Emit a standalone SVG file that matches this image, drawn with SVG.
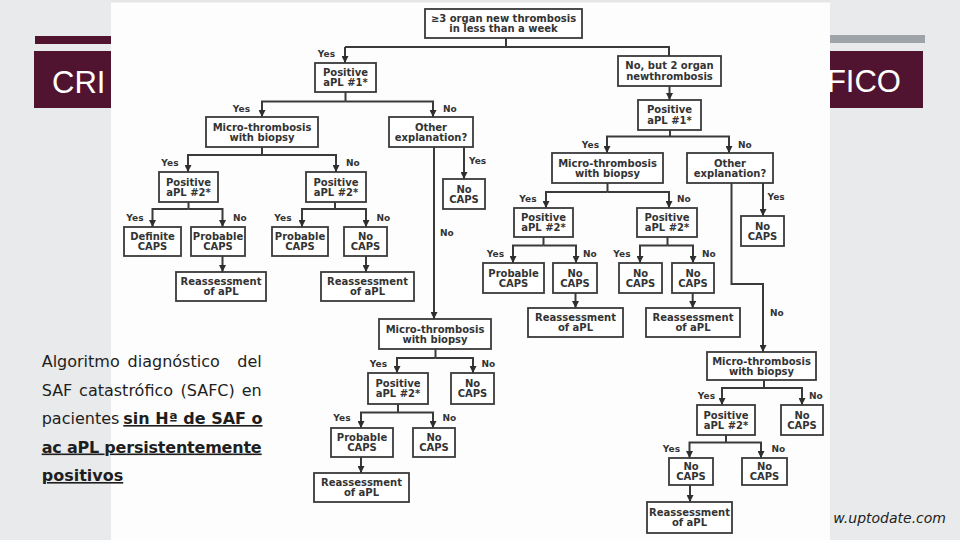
<svg xmlns="http://www.w3.org/2000/svg" width="960" height="540" viewBox="0 0 960 540">
<defs>
<marker id="ah" viewBox="0 0 8 8" refX="8" refY="4" markerWidth="7" markerHeight="7" markerUnits="userSpaceOnUse" orient="auto"><path d="M0 0 L8 4 L0 8 z" fill="#2e2e2e"/></marker>
<style>
.box{fill:#ffffff;stroke:#3a3a3a;stroke-width:1.8}
.t{font-family:"DejaVu Sans",Verdana,sans-serif;font-weight:bold;font-size:10px;fill:#333;text-anchor:middle}
.lb{font-family:"DejaVu Sans",Verdana,sans-serif;font-weight:bold;font-size:9px;fill:#333}
.ln{fill:none;stroke:#3a3a3a;stroke-width:2}
.ar{fill:none;stroke:#3a3a3a;stroke-width:2;marker-end:url(#ah)}
.body{font-family:"DejaVu Sans",Verdana,sans-serif;font-size:16px;fill:#1e1e1e}
.bu{font-weight:bold;text-decoration:underline}
</style>
</defs>
<rect x="0" y="0" width="960" height="540" fill="#e9eaec"/>
<g id="title">
<rect x="35" y="36" width="80" height="8" fill="#501430"/>
<rect x="826" y="35" width="99" height="8" fill="#9ea4aa"/>
<rect x="34" y="51" width="889" height="57" fill="#501430"/>
<text x="52" y="93" font-family="'Liberation Sans Narrow','Liberation Sans',Arial,sans-serif" font-size="31" fill="#ffffff">CRI</text>
<text x="901" y="92" text-anchor="end" font-family="'Liberation Sans Narrow','Liberation Sans',Arial,sans-serif" font-size="31" fill="#ffffff">FICO</text>
</g>
<rect x="111" y="0" width="719" height="540" fill="#fdfdfd"/>
<rect x="111" y="0" width="719" height="2.5" fill="#e6e6e6"/>
<g id="connectors">
<path class="ln" d="M506 38 V47"/>
<path class="ln" d="M669 56 V47 H345"/>
<path class="ar" d="M345 47 V63"/>
<path class="ln" d="M345.5 92 V101.5"/>
<path class="ar" d="M345.5 101.5 H262 V117"/>
<path class="ar" d="M345.5 101.5 H433 V117"/>
<path class="ln" d="M262 147 V155"/>
<path class="ar" d="M262 155 H188 V172"/>
<path class="ar" d="M262 155 H336 V172"/>
<path class="ln" d="M188.5 202 V209"/>
<path class="ar" d="M188.5 209 H152.5 V227"/>
<path class="ar" d="M188.5 209 H222.5 V227"/>
<path class="ln" d="M335 202 V209"/>
<path class="ar" d="M335 209 H302 V227"/>
<path class="ar" d="M335 209 H366 V227"/>
<path class="ar" d="M222.5 256 V272"/>
<path class="ar" d="M366 256 V272"/>
<path class="ar" d="M464 147 V179"/>
<path class="ar" d="M434 147 V319"/>
<path class="ar" d="M669.5 86 V100"/>
<path class="ln" d="M670 130 V136.5"/>
<path class="ar" d="M670 136.5 H607 V153"/>
<path class="ar" d="M670 136.5 H729 V153"/>
<path class="ln" d="M607.5 183 V192"/>
<path class="ar" d="M607.5 192 H546 V208"/>
<path class="ar" d="M607.5 192 H669 V208"/>
<path class="ln" d="M543.5 237 V245.5"/>
<path class="ar" d="M543.5 245.5 H513 V263"/>
<path class="ar" d="M543.5 245.5 H576 V263"/>
<path class="ln" d="M667.5 237 V245.5"/>
<path class="ar" d="M667.5 245.5 H640 V263"/>
<path class="ar" d="M667.5 245.5 H693 V263"/>
<path class="ar" d="M575.5 293 V308"/>
<path class="ar" d="M692.7 293 V308"/>
<path class="ar" d="M763 183 V216"/>
<path class="ar" d="M731.5 183 V284 H763 V352"/>
<path class="ln" d="M435.5 349 V358"/>
<path class="ar" d="M435.5 358 H397 V373"/>
<path class="ar" d="M435.5 358 H473 V373"/>
<path class="ln" d="M398 404 V412.5"/>
<path class="ar" d="M398 412.5 H361 V428"/>
<path class="ar" d="M398 412.5 H433 V428"/>
<path class="ar" d="M361 457 V473"/>
<path class="ln" d="M764 380 V388"/>
<path class="ar" d="M764 388 H722 V405"/>
<path class="ar" d="M764 388 H802 V405"/>
<path class="ln" d="M726 435 V442.5"/>
<path class="ar" d="M726 442.5 H689.5 V458"/>
<path class="ar" d="M726 442.5 H761 V458"/>
<path class="ar" d="M690 485 V502"/>
</g>
<g id="labels">
<text class="lb" x="335" y="57" text-anchor="end">Yes</text>
<text class="lb" x="250" y="111.5" text-anchor="end">Yes</text>
<text class="lb" x="443" y="111.5">No</text>
<text class="lb" x="178.5" y="165.5" text-anchor="end">Yes</text>
<text class="lb" x="346" y="165.5">No</text>
<text class="lb" x="143.5" y="221" text-anchor="end">Yes</text>
<text class="lb" x="233" y="221">No</text>
<text class="lb" x="291.5" y="221" text-anchor="end">Yes</text>
<text class="lb" x="376.5" y="221">No</text>
<text class="lb" x="440" y="236">No</text>
<text class="lb" x="469" y="164">Yes</text>
<text class="lb" x="599" y="147.5" text-anchor="end">Yes</text>
<text class="lb" x="738" y="147.5">No</text>
<text class="lb" x="536.5" y="202" text-anchor="end">Yes</text>
<text class="lb" x="677" y="202">No</text>
<text class="lb" x="504" y="257" text-anchor="end">Yes</text>
<text class="lb" x="583" y="257">No</text>
<text class="lb" x="630.5" y="257" text-anchor="end">Yes</text>
<text class="lb" x="702" y="257">No</text>
<text class="lb" x="767.5" y="200">Yes</text>
<text class="lb" x="770" y="316">No</text>
<text class="lb" x="387" y="366.5" text-anchor="end">Yes</text>
<text class="lb" x="481.5" y="366.5">No</text>
<text class="lb" x="350.5" y="421" text-anchor="end">Yes</text>
<text class="lb" x="442.5" y="421">No</text>
<text class="lb" x="715" y="398.5" text-anchor="end">Yes</text>
<text class="lb" x="809" y="398.5">No</text>
<text class="lb" x="680" y="452" text-anchor="end">Yes</text>
<text class="lb" x="771.5" y="452">No</text>
</g>
<g id="n0"><rect class="box" x="425" y="9" width="157" height="29"/><text class="t" x="503.5" y="21.5">≥3 organ new thrombosis</text><text class="t" x="503.5" y="31.5">in less than a week</text></g>
<g id="n1"><rect class="box" x="315" y="63" width="61" height="29"/><text class="t" x="345.5" y="75.5">Positive</text><text class="t" x="345.5" y="86">aPL #1*</text></g>
<g id="n2"><rect class="box" x="618" y="56" width="103" height="30"/><text class="t" x="669.5" y="69">No, but 2 organ</text><text class="t" x="669.5" y="79.5">newthrombosis</text></g>
<g id="n3"><rect class="box" x="206" y="117" width="112" height="30"/><text class="t" x="262" y="130.5">Micro-thrombosis</text><text class="t" x="262" y="140.5">with biopsy</text></g>
<g id="n4"><rect class="box" x="389" y="117" width="84" height="30"/><text class="t" x="431" y="130.5">Other</text><text class="t" x="431" y="140.5">explanation?</text></g>
<g id="n5"><rect class="box" x="159" y="172" width="59" height="30"/><text class="t" x="188.5" y="185.5">Positive</text><text class="t" x="188.5" y="195.5">aPL #2*</text></g>
<g id="n6"><rect class="box" x="306" y="172" width="60" height="30"/><text class="t" x="336" y="185.5">Positive</text><text class="t" x="336" y="195.5">aPL #2*</text></g>
<g id="n7"><rect class="box" x="443" y="179" width="42" height="30"/><text class="t" x="464" y="192.5">No</text><text class="t" x="464" y="202.5">CAPS</text></g>
<g id="n8"><rect class="box" x="124" y="227" width="57" height="29"/><text class="t" x="152.5" y="240">Definite</text><text class="t" x="152.5" y="250">CAPS</text></g>
<g id="n9"><rect class="box" x="191" y="227" width="54" height="29"/><text class="t" x="218" y="240">Probable</text><text class="t" x="218" y="250">CAPS</text></g>
<g id="n10"><rect class="box" x="272" y="227" width="56" height="29"/><text class="t" x="300" y="240">Probable</text><text class="t" x="300" y="250">CAPS</text></g>
<g id="n11"><rect class="box" x="344" y="227" width="43" height="29"/><text class="t" x="365.5" y="240">No</text><text class="t" x="365.5" y="250">CAPS</text></g>
<g id="n12"><rect class="box" x="176" y="272" width="90" height="29"/><text class="t" x="221" y="285">Reassessment</text><text class="t" x="221" y="295">of aPL</text></g>
<g id="n13"><rect class="box" x="321" y="272" width="93" height="29"/><text class="t" x="367.5" y="285">Reassessment</text><text class="t" x="367.5" y="295">of aPL</text></g>
<g id="n14"><rect class="box" x="638" y="100" width="63" height="30"/><text class="t" x="669.5" y="113">Positive</text><text class="t" x="669.5" y="123.5">aPL #1*</text></g>
<g id="n15"><rect class="box" x="552" y="153" width="111" height="30"/><text class="t" x="607.5" y="166.5">Micro-thrombosis</text><text class="t" x="607.5" y="176.5">with biopsy</text></g>
<g id="n16"><rect class="box" x="687" y="153" width="86" height="30"/><text class="t" x="730" y="166.5">Other</text><text class="t" x="730" y="176.5">explanation?</text></g>
<g id="n17"><rect class="box" x="514" y="208" width="59" height="29"/><text class="t" x="543.5" y="221">Positive</text><text class="t" x="543.5" y="231">aPL #2*</text></g>
<g id="n18"><rect class="box" x="637" y="208" width="60" height="29"/><text class="t" x="667" y="221">Positive</text><text class="t" x="667" y="231">aPL #2*</text></g>
<g id="n19"><rect class="box" x="741" y="216" width="43" height="30"/><text class="t" x="762.5" y="229.5">No</text><text class="t" x="762.5" y="239.5">CAPS</text></g>
<g id="n20"><rect class="box" x="483" y="263" width="61" height="30"/><text class="t" x="513.5" y="276.5">Probable</text><text class="t" x="513.5" y="286.5">CAPS</text></g>
<g id="n21"><rect class="box" x="553" y="263" width="44" height="30"/><text class="t" x="575" y="276.5">No</text><text class="t" x="575" y="286.5">CAPS</text></g>
<g id="n22"><rect class="box" x="619" y="263" width="43" height="30"/><text class="t" x="640.5" y="276.5">No</text><text class="t" x="640.5" y="286.5">CAPS</text></g>
<g id="n23"><rect class="box" x="672" y="263" width="42" height="30"/><text class="t" x="693" y="276.5">No</text><text class="t" x="693" y="286.5">CAPS</text></g>
<g id="n24"><rect class="box" x="528" y="308" width="95" height="29"/><text class="t" x="575.5" y="321">Reassessment</text><text class="t" x="575.5" y="331">of aPL</text></g>
<g id="n25"><rect class="box" x="646" y="308" width="94" height="29"/><text class="t" x="693" y="321">Reassessment</text><text class="t" x="693" y="331">of aPL</text></g>
<g id="n26"><rect class="box" x="379" y="319" width="112" height="30"/><text class="t" x="435" y="332.5">Micro-thrombosis</text><text class="t" x="435" y="342.5">with biopsy</text></g>
<g id="n27"><rect class="box" x="368" y="373" width="60" height="31"/><text class="t" x="398" y="387">Positive</text><text class="t" x="398" y="397">aPL #2*</text></g>
<g id="n28"><rect class="box" x="451" y="373" width="43" height="31"/><text class="t" x="472.5" y="387">No</text><text class="t" x="472.5" y="397">CAPS</text></g>
<g id="n29"><rect class="box" x="331" y="428" width="62" height="29"/><text class="t" x="362" y="441">Probable</text><text class="t" x="362" y="451">CAPS</text></g>
<g id="n30"><rect class="box" x="413" y="428" width="42" height="29"/><text class="t" x="434" y="441">No</text><text class="t" x="434" y="451">CAPS</text></g>
<g id="n31"><rect class="box" x="314" y="473" width="95" height="29"/><text class="t" x="361.5" y="486">Reassessment</text><text class="t" x="361.5" y="496">of aPL</text></g>
<g id="n32"><rect class="box" x="707" y="352" width="109" height="28"/><text class="t" x="761.5" y="364.5">Micro-thrombosis</text><text class="t" x="761.5" y="374.5">with biopsy</text></g>
<g id="n33"><rect class="box" x="697" y="405" width="58" height="30"/><text class="t" x="726" y="418.5">Positive</text><text class="t" x="726" y="428.5">aPL #2*</text></g>
<g id="n34"><rect class="box" x="781" y="405" width="42" height="30"/><text class="t" x="802" y="418.5">No</text><text class="t" x="802" y="428.5">CAPS</text></g>
<g id="n35"><rect class="box" x="669" y="458" width="44" height="27"/><text class="t" x="691" y="470">No</text><text class="t" x="691" y="480">CAPS</text></g>
<g id="n36"><rect class="box" x="742" y="458" width="45" height="27"/><text class="t" x="764.5" y="470">No</text><text class="t" x="764.5" y="480">CAPS</text></g>
<g id="n37"><rect class="box" x="647" y="502" width="85" height="31"/><text class="t" x="689.5" y="515.5">Reassessment</text><text class="t" x="689.5" y="525.5">of aPL</text></g>
<g id="caption">
<text class="body" y="367"><tspan x="41.7">Algoritmo</tspan><tspan x="127.6">diagnóstico</tspan><tspan x="261.7" text-anchor="end">del</tspan></text>
<text class="body" y="395.5"><tspan x="41.7">SAF</tspan><tspan x="79.1">catastrófico</tspan><tspan x="180.5">(SAFC)</tspan><tspan x="261.7" text-anchor="end">en</tspan></text>
<text class="body" y="424"><tspan x="41.7">pacientes</tspan><tspan x="123.3" class="bu">sin Hª de SAF o</tspan></text>
<text class="body bu" x="41.7" y="452.5" textLength="220" lengthAdjust="spacing">ac aPL persistentemente</text>
<text class="body bu" x="41.7" y="481">positivos</text>
</g>
<text x="946" y="523" text-anchor="end" font-family="'DejaVu Sans',Verdana,sans-serif" font-style="italic" font-size="14" fill="#222">w.uptodate.com</text>
</svg>
